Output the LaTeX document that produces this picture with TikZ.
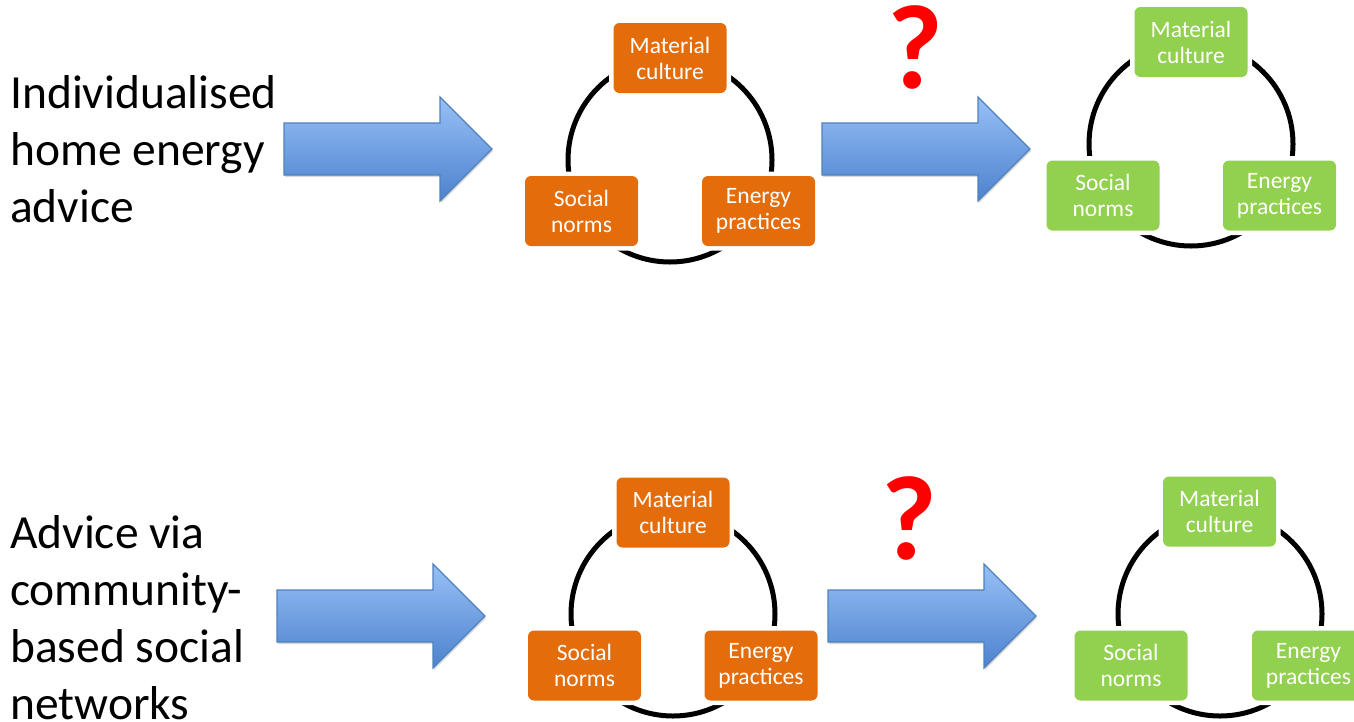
\documentclass[tikz,border=0pt]{standalone}
\usepackage{fontspec}
\setmainfont{Carlito}
\usepackage{xcolor}
\usepackage{tikz}
\usetikzlibrary{shadows}

\definecolor{boxorange}{RGB}{228,108,10}
\definecolor{boxgreen}{RGB}{146,208,80}
\definecolor{arrowtop}{RGB}{152,192,246}
\definecolor{arrowbot}{RGB}{76,130,206}
\definecolor{arrowline}{RGB}{79,129,189}

\begin{document}
\begin{tikzpicture}[x=1pt, y=-1pt,
  box/.style={rectangle, rounded corners=6pt, minimum width=113pt, minimum height=70pt, inner sep=0pt, text=white, align=center, font=\fontsize{23.5}{26}\selectfont, preaction={draw=white, line width=9pt}},
  orangebox/.style={box, fill=boxorange},
  greenbox/.style={box, fill=boxgreen},
  ring/.style={draw=black, line width=5pt},
  bigarrow/.style={draw=arrowline, line width=1.2pt, top color=arrowtop, bottom color=arrowbot, drop shadow={opacity=0.3, shadow xshift=1pt, shadow yshift=-2pt}},
  sidetext/.style={anchor=base west, inner sep=0pt, align=left, font=\fontsize{47.5}{57}\selectfont},
  qmark/.style={anchor=base, inner sep=0pt, text=red, font=\fontsize{120}{120}\selectfont\bfseries}]
  \useasboundingbox (0,0) rectangle (1354,721);
  \clip (0,0) rectangle (1354,721);

  % left texts
  \node (L1) at (10,222) [sidetext] {Individualised\\home energy\\advice};
  \node (L2) at (10,719) [sidetext] {Advice via\\community-\\based social\\networks};

  % arrows
  \draw[bigarrow] (284,123) -- ++(156,0) -- ++(0,-26) -- ++(52,52) -- ++(-52,52) -- ++(0,-26) -- ++(-156,0) -- cycle;
  \draw[bigarrow] (822,123) -- ++(156,0) -- ++(0,-26) -- ++(52,52) -- ++(-52,52) -- ++(0,-26) -- ++(-156,0) -- cycle;
  \draw[bigarrow] (277,590) -- ++(156,0) -- ++(0,-26) -- ++(52,52) -- ++(-52,52) -- ++(0,-26) -- ++(-156,0) -- cycle;
  \draw[bigarrow] (828,590) -- ++(156,0) -- ++(0,-26) -- ++(52,52) -- ++(-52,52) -- ++(0,-26) -- ++(-156,0) -- cycle;

  \node (Q1) at (915,88) [qmark] {?};
  \node (Q2) at (909,559) [qmark] {?};

  % rings behind the boxes
  \coordinate (C1) at (670,160);
  \coordinate (C2) at (1191,144);
  \coordinate (C3) at (673,614);
  \coordinate (C4) at (1220,614);
  \draw[ring] (C1) circle[radius=102pt];
  \draw[ring] (C2) circle[radius=102pt];
  \draw[ring] (C3) circle[radius=102pt];
  \draw[ring] (C4) circle[radius=102pt];

  % top row
  \node (M1) at (670,58) [orangebox] {Material\\culture};
  \node (S1) at (581.5,211) [orangebox] {Social\\norms};
  \node (E1) at (758.5,211) [orangebox] {Energy\\practices};
  \node (M2) at (1191,42) [greenbox] {Material\\culture};
  \node (S2) at (1103,195.5) [greenbox] {Social\\norms};
  \node (E2) at (1279.5,195.5) [greenbox] {Energy\\practices};

  % bottom row
  \node (M3) at (673,512.5) [orangebox] {Material\\culture};
  \node (S3) at (584.5,665.5) [orangebox] {Social\\norms};
  \node (E3) at (761,665.5) [orangebox] {Energy\\practices};
  \node (M4) at (1219.5,511.5) [greenbox] {Material\\culture};
  \node (S4) at (1131,665.5) [greenbox] {Social\\norms};
  \node (E4) at (1308.5,665.5) [greenbox] {Energy\\practices};
\end{tikzpicture}
\end{document}
